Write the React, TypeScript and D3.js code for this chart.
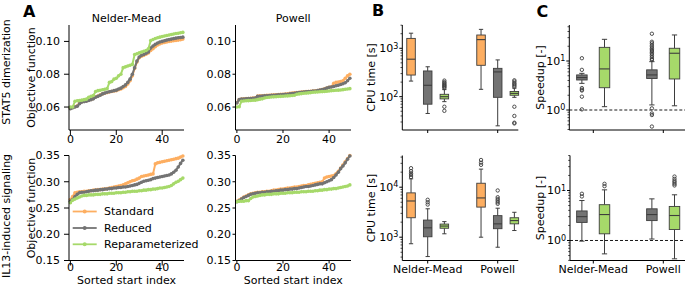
import React from 'react';
import * as d3 from 'd3';

const FONT = "'DejaVu Sans', sans-serif";
const EDGE = '#3d3d3d';

const methods = ['Standard', 'Reduced', 'Reparameterized'];
const methodColors = ['#fdae61', '#737373', '#a6d96a'];
const optimizers = ['Nelder-Mead', 'Powell'];
const models = ['STAT5 dimerization', 'IL13-induced signaling'];
const startIndex = d3.range(50);

// Panel A: sorted objective function values (50 starts)
const stat5NmStandard = [
  0.0592, 0.0598, 0.0602, 0.0608, 0.0625, 0.0632, 0.0635, 0.0638, 0.0641, 0.0646,
  0.0652, 0.0662, 0.0667, 0.0674, 0.0680, 0.0684, 0.0688, 0.0692, 0.0695, 0.0698,
  0.0700, 0.0705, 0.0710, 0.0718, 0.0725, 0.0740, 0.0760, 0.0790, 0.0835, 0.0875,
  0.0900, 0.0910, 0.0915, 0.0922, 0.0930, 0.0945, 0.0955, 0.0968, 0.0978, 0.0985,
  0.0990, 0.0994, 0.0997, 0.1000, 0.1002, 0.1004, 0.1006, 0.1008, 0.1010, 0.1014,
];
const stat5NmReduced = [
  0.0590, 0.0595, 0.0600, 0.0605, 0.0620, 0.0630, 0.0633, 0.0636, 0.0640, 0.0645,
  0.0650, 0.0660, 0.0665, 0.0672, 0.0680, 0.0685, 0.0690, 0.0693, 0.0696, 0.0700,
  0.0703, 0.0710, 0.0715, 0.0725, 0.0735, 0.0750, 0.0770, 0.0800, 0.0840, 0.0880,
  0.0905, 0.0915, 0.0920, 0.0928, 0.0935, 0.0960, 0.0972, 0.0982, 0.0990, 0.0996,
  0.1000, 0.1004, 0.1008, 0.1011, 0.1014, 0.1017, 0.1020, 0.1022, 0.1024, 0.1026,
];
const stat5NmReparam = [
  0.0600, 0.0600, 0.0635, 0.0638, 0.0640, 0.0642, 0.0645, 0.0648, 0.0660, 0.0665,
  0.0670, 0.0695, 0.0700, 0.0702, 0.0705, 0.0708, 0.0712, 0.0750, 0.0755, 0.0770,
  0.0775, 0.0790, 0.0800, 0.0840, 0.0845, 0.0850, 0.0855, 0.0860, 0.0920, 0.0925,
  0.0930, 0.0935, 0.0940, 0.0945, 0.0955, 0.1005, 0.1012, 0.1018, 0.1022, 0.1026,
  0.1030, 0.1033, 0.1036, 0.1039, 0.1042, 0.1045, 0.1048, 0.1050, 0.1053, 0.1055,
];
const stat5PowStandard = [
  0.0627, 0.0646, 0.0649, 0.0650, 0.0651, 0.0652, 0.0653, 0.0654, 0.0656, 0.0667,
  0.0668, 0.0669, 0.0670, 0.0671, 0.0672, 0.0673, 0.0674, 0.0675, 0.0676, 0.0677,
  0.0678, 0.0679, 0.0681, 0.0683, 0.0685, 0.0687, 0.0689, 0.0690, 0.0692, 0.0693,
  0.0694, 0.0695, 0.0696, 0.0698, 0.0699, 0.0701, 0.0704, 0.0707, 0.0711, 0.0716,
  0.0721, 0.0724, 0.0745, 0.0750, 0.0752, 0.0755, 0.0760, 0.0775, 0.0790, 0.0800,
];
const stat5PowReduced = [
  0.0625, 0.0645, 0.0648, 0.0649, 0.0650, 0.0651, 0.0652, 0.0653, 0.0655, 0.0665,
  0.0666, 0.0667, 0.0668, 0.0669, 0.0670, 0.0671, 0.0672, 0.0673, 0.0674, 0.0675,
  0.0676, 0.0677, 0.0678, 0.0680, 0.0682, 0.0684, 0.0686, 0.0688, 0.0690, 0.0692,
  0.0693, 0.0694, 0.0695, 0.0697, 0.0698, 0.0700, 0.0703, 0.0706, 0.0710, 0.0715,
  0.0720, 0.0722, 0.0725, 0.0730, 0.0733, 0.0737, 0.0742, 0.0748, 0.0760, 0.0775,
];
const stat5PowReparam = [
  0.0600, 0.0602, 0.0635, 0.0637, 0.0638, 0.0639, 0.0640, 0.0641, 0.0642, 0.0645,
  0.0648, 0.0650, 0.0655, 0.0658, 0.0660, 0.0661, 0.0662, 0.0663, 0.0664, 0.0665,
  0.0666, 0.0667, 0.0668, 0.0669, 0.0670, 0.0672, 0.0678, 0.0680, 0.0682, 0.0684,
  0.0685, 0.0686, 0.0688, 0.0690, 0.0691, 0.0692, 0.0693, 0.0694, 0.0695, 0.0696,
  0.0698, 0.0700, 0.0701, 0.0702, 0.0703, 0.0704, 0.0706, 0.0708, 0.0710, 0.0712,
];
const il13NmStandard = [
  0.266, 0.272, 0.279, 0.280, 0.281, 0.281, 0.282, 0.282, 0.283, 0.283,
  0.284, 0.284, 0.285, 0.285, 0.286, 0.286, 0.287, 0.288, 0.289, 0.290,
  0.291, 0.292, 0.293, 0.294, 0.296, 0.298, 0.300, 0.302, 0.303, 0.305,
  0.307, 0.310, 0.311, 0.312, 0.313, 0.314, 0.315, 0.334, 0.336, 0.337,
  0.338, 0.339, 0.340, 0.341, 0.342, 0.343, 0.344, 0.345, 0.347, 0.349,
];
const il13NmReduced = [
  0.263, 0.266, 0.272, 0.276, 0.279, 0.280, 0.280, 0.281, 0.282, 0.283,
  0.283, 0.284, 0.284, 0.285, 0.285, 0.286, 0.286, 0.287, 0.287, 0.288,
  0.288, 0.289, 0.289, 0.290, 0.290, 0.291, 0.292, 0.293, 0.294, 0.295,
  0.297, 0.299, 0.301, 0.302, 0.303, 0.304, 0.306, 0.307, 0.308, 0.309,
  0.310, 0.311, 0.312, 0.313, 0.315, 0.318, 0.322, 0.328, 0.335, 0.341,
];
const il13NmReparam = [
  0.260, 0.265, 0.267, 0.269, 0.271, 0.273, 0.274, 0.274, 0.275, 0.275,
  0.275, 0.276, 0.276, 0.276, 0.277, 0.277, 0.277, 0.278, 0.278, 0.278,
  0.279, 0.279, 0.279, 0.280, 0.280, 0.281, 0.281, 0.282, 0.282, 0.282,
  0.283, 0.283, 0.284, 0.284, 0.285, 0.285, 0.286, 0.286, 0.287, 0.288,
  0.288, 0.289, 0.290, 0.291, 0.293, 0.296, 0.299, 0.301, 0.304, 0.307,
];
const il13PowStandard = [
  0.263, 0.265, 0.268, 0.271, 0.273, 0.275, 0.277, 0.278, 0.279, 0.280,
  0.280, 0.281, 0.281, 0.282, 0.282, 0.283, 0.284, 0.284, 0.285, 0.286,
  0.286, 0.287, 0.288, 0.288, 0.289, 0.290, 0.290, 0.291, 0.292, 0.293,
  0.293, 0.294, 0.295, 0.296, 0.297, 0.298, 0.299, 0.300, 0.307, 0.309,
  0.310, 0.311, 0.312, 0.315, 0.320, 0.326, 0.332, 0.338, 0.344, 0.350,
];
const il13PowReduced = [
  0.262, 0.264, 0.267, 0.270, 0.272, 0.274, 0.276, 0.277, 0.278, 0.279,
  0.279, 0.280, 0.280, 0.281, 0.281, 0.282, 0.282, 0.283, 0.283, 0.284,
  0.284, 0.285, 0.285, 0.286, 0.286, 0.287, 0.287, 0.288, 0.289, 0.290,
  0.291, 0.291, 0.292, 0.293, 0.294, 0.295, 0.296, 0.296, 0.298, 0.300,
  0.302, 0.304, 0.308, 0.313, 0.318, 0.325, 0.330, 0.336, 0.343, 0.349,
];
const il13PowReparam = [
  0.262, 0.263, 0.263, 0.263, 0.264, 0.264, 0.268, 0.271, 0.272, 0.273,
  0.274, 0.275, 0.275, 0.276, 0.276, 0.276, 0.277, 0.277, 0.277, 0.278,
  0.278, 0.278, 0.279, 0.279, 0.279, 0.280, 0.280, 0.280, 0.281, 0.281,
  0.281, 0.282, 0.282, 0.282, 0.283, 0.283, 0.284, 0.284, 0.285, 0.285,
  0.286, 0.286, 0.287, 0.287, 0.288, 0.289, 0.290, 0.291, 0.292, 0.294,
];

const xTicksA = [0, 20, 40];
const yTicksStat5 = [0.06, 0.08, 0.10];
const yTicksIl13 = [0.15, 0.2, 0.25, 0.3, 0.35];

// Panel B: CPU time box stats [low whisker, q1, median, q3, high whisker]
// order: NM-Standard, NM-Reduced, NM-Reparam, Powell-Standard, Powell-Reduced, Powell-Reparam
const cpuStat5 = [
  [210, 280, 595, 1600, 2050],
  [45, 70, 172, 340, 415],
  [79, 90, 100, 112, 140],
  [142, 445, 1510, 1880, 2460],
  [25, 97, 325, 385, 575],
  [97, 107, 117, 128, 150],
];
const cpuStat5Outliers = [
  [], [],
  [150, 158, 165, 172, 180, 190, 200, 215, 62, 51],
  [], [],
  [160, 170, 180, 190, 205, 218, 62, 40, 29, 28],
];
const cpuIl13 = [
  [740, 2450, 5300, 7700, 14700],
  [410, 1020, 1540, 2200, 3700],
  [1170, 1510, 1670, 1830, 2050],
  [1000, 4000, 6100, 12000, 23000],
  [630, 1480, 1850, 2700, 3800],
  [1360, 1850, 2150, 2450, 3150],
];
const cpuIl13Outliers = [
  [16000, 17500, 19000, 21000, 24000],
  [4500, 5000, 5600],
  [],
  [28000, 31000, 35000],
  [4650, 5000, 5400, 5800, 6300, 8600],
  [],
];

// Panel C: speedup box stats, order: NM-Reduced, NM-Reparam, Powell-Reduced, Powell-Reparam
const speedStat5 = [
  [3.5, 4.1, 4.6, 5.2, 5.6],
  [1.17, 2.85, 6.9, 19, 27.7],
  [1.27, 4.4, 5.2, 6.6, 9.7],
  [1.22, 4.3, 14.4, 18.2, 34],
];
const speedStat5Outliers = [
  [11.4, 6.6, 2.8, 2.6, 2.5, 1.87, 1.03],
  [],
  [36, 24.7, 23, 21, 19.5, 18, 17, 16, 15, 14, 13, 12, 11, 10.5, 1.08, 0.85, 0.79, 0.46],
  [],
];
const speedIl13 = [
  [0.97, 2.3, 3.0, 3.9, 6.3],
  [0.54, 1.36, 3.3, 5.2, 10.3],
  [1.07, 2.5, 3.3, 4.3, 6.8],
  [0.43, 1.66, 3.16, 4.8, 8.2],
];
const speedIl13Outliers = [
  [7.6, 8.6],
  [12.2, 13.6],
  [],
  [12.6, 13.5, 14.5, 15.5, 17, 19],
];

type LineProps = {
  left: number; right: number; top: number; bottom: number;
  yDomain: [number, number]; yTicks: number[]; series: number[][];
  title?: string; xLabel?: string; tickLen: number; labelGap: number; legend?: boolean;
  xTickOffset: number;
};

function LinePanel(p: LineProps) {
  const x = d3.scaleLinear().domain([-0.6, 49.5]).range([p.left, p.right]);
  const y = d3.scaleLinear().domain(p.yDomain).range([p.bottom, p.top]);
  const line = d3.line<number>().x((_, i) => x(startIndex[i])).y((d) => y(d));
  const legendY = [211.5, 228, 244.3];
  return (
    <g>
      {p.series.map((s, k) => (
        <g key={k}>
          <path d={line(s) || ''} fill="none" stroke={methodColors[k]} strokeWidth={2} />
          {s.map((v, i) => (
            <circle key={i} cx={x(startIndex[i])} cy={y(v)} r={1.8} fill={methodColors[k]} />
          ))}
        </g>
      ))}
      <line x1={p.left} x2={p.left} y1={p.top} y2={p.bottom} stroke="#000" strokeWidth={1} />
      <line x1={p.left} x2={p.right} y1={p.bottom} y2={p.bottom} stroke="#000" strokeWidth={1} />
      {p.yTicks.map((t) => (
        <g key={t}>
          <line x1={p.left - p.tickLen} x2={p.left} y1={y(t)} y2={y(t)} stroke="#000" />
          <text x={p.left - p.labelGap} y={y(t)} dy="0.35em" textAnchor="end" fontSize={11}>
            {d3.format('.2f')(t)}
          </text>
        </g>
      ))}
      {xTicksA.map((t) => (
        <g key={t}>
          <line x1={x(t)} x2={x(t)} y1={p.bottom} y2={p.bottom + p.tickLen} stroke="#000" />
          <text x={x(t)} y={p.bottom + p.xTickOffset} textAnchor="middle" fontSize={11}>{t}</text>
        </g>
      ))}
      {p.title && (
        <text x={(p.left + p.right) / 2} y={21.5} textAnchor="middle" fontSize={11}>{p.title}</text>
      )}
      {p.xLabel && (
        <text x={(p.left + p.right) / 2} y={283.8} textAnchor="middle" fontSize={11}>{p.xLabel}</text>
      )}
      {p.legend && methods.map((m, k) => (
        <g key={m}>
          <line x1={72.7} x2={96.7} y1={legendY[k]} y2={legendY[k]} stroke={methodColors[k]} strokeWidth={1.8} />
          <circle cx={84.7} cy={legendY[k]} r={2} fill={methodColors[k]} />
          <text x={104} y={legendY[k]} dy="0.35em" fontSize={11}>{m}</text>
        </g>
      ))}
    </g>
  );
}

type BoxProps = {
  left: number; right: number; top: number; bottom: number;
  yDomain: [number, number]; centers: [number, number];
  hues: number[]; offsets: number[]; boxW: number;
  stats: number[][]; outliers: number[][]; showLabels: boolean; refLine?: boolean;
};

function BoxPanel(p: BoxProps) {
  const x = d3.scaleLinear().domain([0, 1]).range(p.centers);
  const y = d3.scaleLog().domain(p.yDomain).range([p.bottom, p.top]);
  const lo = Math.floor(Math.log10(p.yDomain[0]));
  const hi = Math.ceil(Math.log10(p.yDomain[1]));
  const major: number[] = [];
  const minor: number[] = [];
  for (let e = lo; e <= hi; e++) {
    const b = Math.pow(10, e);
    if (b >= p.yDomain[0] && b <= p.yDomain[1]) major.push(e);
    for (let k = 2; k <= 9; k++) {
      const v = k * b;
      if (v >= p.yDomain[0] && v <= p.yDomain[1]) minor.push(v);
    }
  }
  const w = (p.centers[1] - p.centers[0]);
  const bw = p.boxW * w;
  return (
    <g>
      {p.refLine && (
        <line x1={p.left} x2={p.right} y1={y(1)} y2={y(1)} stroke="#000" strokeWidth={0.9} strokeDasharray="3,2" />
      )}
      {p.stats.map((s, idx) => {
        const cat = Math.floor(idx / p.hues.length);
        const h = idx % p.hues.length;
        const cx = x(cat + p.offsets[h]);
        const col = methodColors[p.hues[h]];
        const [wl, q1, med, q3, wh] = s;
        return (
          <g key={idx}>
            <line x1={cx} x2={cx} y1={y(q1)} y2={y(wl)} stroke={EDGE} strokeWidth={1} />
            <line x1={cx} x2={cx} y1={y(q3)} y2={y(wh)} stroke={EDGE} strokeWidth={1} />
            <line x1={cx - bw / 4} x2={cx + bw / 4} y1={y(wl)} y2={y(wl)} stroke={EDGE} strokeWidth={1} />
            <line x1={cx - bw / 4} x2={cx + bw / 4} y1={y(wh)} y2={y(wh)} stroke={EDGE} strokeWidth={1} />
            <rect x={cx - bw / 2} y={y(q3)} width={bw} height={Math.max(0.5, y(q1) - y(q3))} fill={col} stroke={EDGE} strokeWidth={0.9} />
            <line x1={cx - bw / 2} x2={cx + bw / 2} y1={y(med)} y2={y(med)} stroke={EDGE} strokeWidth={1.1} />
            {p.outliers[idx].map((o, j) => (
              <circle key={j} cx={cx} cy={y(o)} r={1.7} fill="none" stroke={EDGE} strokeWidth={0.9} />
            ))}
          </g>
        );
      })}
      <line x1={p.left} x2={p.left} y1={p.top} y2={p.bottom} stroke="#000" strokeWidth={1} />
      <line x1={p.left} x2={p.right} y1={p.bottom} y2={p.bottom} stroke="#000" strokeWidth={1} />
      {minor.map((v) => (
        <line key={v} x1={p.left - 1.8} x2={p.left} y1={y(v)} y2={y(v)} stroke="#000" strokeWidth={0.7} />
      ))}
      {major.map((e) => (
        <g key={e}>
          <line x1={p.left - 3} x2={p.left} y1={y(Math.pow(10, e))} y2={y(Math.pow(10, e))} stroke="#000" />
          <text x={p.left - 4} y={y(Math.pow(10, e))} dy="0.35em" textAnchor="end" fontSize={11}>
            10<tspan dy="-0.45em" fontSize={8}>{e}</tspan>
          </text>
        </g>
      ))}
      {optimizers.map((o, i) => (
        <g key={o}>
          <line x1={x(i)} x2={x(i)} y1={p.bottom} y2={p.bottom + 3} stroke="#000" />
          {p.showLabels && (
            <text x={x(i)} y={p.bottom + 12} textAnchor="middle" fontSize={11}>{o}</text>
          )}
        </g>
      ))}
    </g>
  );
}

function VLabel({ x, y, text, size = 11 }: { x: number; y: number; text: string; size?: number }) {
  return (
    <text transform={`translate(${x},${y}) rotate(-90)`} textAnchor="middle" dy="0.35em" fontSize={size}>
      {text}
    </text>
  );
}

export default function App() {
  const rowTop = [25, 155.5];
  const rowBot = [130, 260.5];
  return (
    <svg width={685} height={286} style={{ position: 'absolute', left: 0, top: 0, background: '#fff' }}
      fontFamily={FONT}>
      <rect width={685} height={286} fill="#fff" />
      {/* Panel letters */}
      <text x={23} y={16.5} fontSize={16} fontWeight="bold">A</text>
      <text x={372} y={16} fontSize={16} fontWeight="bold">B</text>
      <text x={536.5} y={16.5} fontSize={16} fontWeight="bold">C</text>

      {/* Row labels */}
      <VLabel x={6} y={72} text={models[0]} />
      <VLabel x={6} y={216} text={models[1]} />
      <VLabel x={31} y={77.5} text="Objective function" />
      <VLabel x={31} y={208} text="Objective function" />
      <VLabel x={371} y={77.5} text="CPU time [s]" />
      <VLabel x={371} y={208} text="CPU time [s]" />
      <VLabel x={540} y={77.5} text="Speedup [-]" />
      <VLabel x={540} y={208} text="Speedup [-]" />

      {/* Panel A */}
      <LinePanel left={69} right={184} top={rowTop[0]} bottom={rowBot[0]} yDomain={[0.046, 0.110]}
        yTicks={yTicksStat5} series={[stat5NmStandard, stat5NmReduced, stat5NmReparam]}
        title={optimizers[0]} tickLen={5} labelGap={9} xTickOffset={12.5} />
      <LinePanel left={235.5} right={351} top={rowTop[0]} bottom={rowBot[0]} yDomain={[0.046, 0.110]}
        yTicks={yTicksStat5} series={[stat5PowStandard, stat5PowReduced, stat5PowReparam]}
        title={optimizers[1]} tickLen={3} labelGap={4.5} xTickOffset={12.5} />
      <LinePanel left={69} right={184} top={rowTop[1]} bottom={rowBot[1]} yDomain={[0.15, 0.35]}
        yTicks={yTicksIl13} series={[il13NmStandard, il13NmReduced, il13NmReparam]}
        xLabel="Sorted start index" tickLen={5} labelGap={9} xTickOffset={10} legend />
      <LinePanel left={235.5} right={351} top={rowTop[1]} bottom={rowBot[1]} yDomain={[0.15, 0.35]}
        yTicks={yTicksIl13} series={[il13PowStandard, il13PowReduced, il13PowReparam]}
        xLabel="Sorted start index" tickLen={3} labelGap={4.5} xTickOffset={10} />

      {/* Panel B */}
      <BoxPanel left={402.3} right={518.3} top={rowTop[0]} bottom={rowBot[0]} yDomain={[20.5, 3027]}
        centers={[427.7, 497.7]} hues={[0, 1, 2]} offsets={[-0.238, 0, 0.238]} boxW={0.122}
        stats={cpuStat5} outliers={cpuStat5Outliers} showLabels={false} />
      <BoxPanel left={402.3} right={518.3} top={rowTop[1]} bottom={rowBot[1]} yDomain={[342, 43050]}
        centers={[427.7, 497.7]} hues={[0, 1, 2]} offsets={[-0.238, 0, 0.238]} boxW={0.122}
        stats={cpuIl13} outliers={cpuIl13Outliers} showLabels={true} />

      {/* Panel C */}
      <BoxPanel left={569.3} right={685} top={rowTop[0]} bottom={rowBot[0]} yDomain={[0.391, 54.3]}
        centers={[593.3, 663.3]} hues={[1, 2]} offsets={[-0.163, 0.16]} boxW={0.15}
        stats={speedStat5} outliers={speedStat5Outliers} showLabels={false} refLine />
      <BoxPanel left={570} right={685} top={rowTop[1]} bottom={rowBot[1]} yDomain={[0.398, 50.1]}
        centers={[593.3, 663.3]} hues={[1, 2]} offsets={[-0.163, 0.16]} boxW={0.15}
        stats={speedIl13} outliers={speedIl13Outliers} showLabels={true} refLine />
    </svg>
  );
}
